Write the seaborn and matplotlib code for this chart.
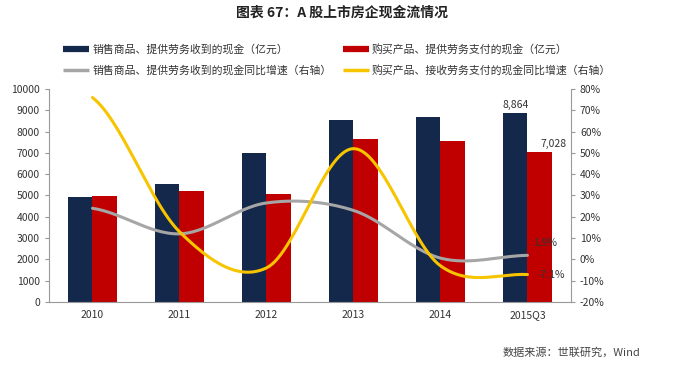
import numpy as np
import pandas as pd
import matplotlib
matplotlib.use("Agg")
import matplotlib.pyplot as plt
import seaborn as sns
from matplotlib.lines import Line2D

# Data
years = ["2010", "2011", "2012", "2013", "2014", "2015Q3"]
sales_cash = [4950, 5550, 6980, 8560, 8680, 8864]
purchase_cash = [4980, 5200, 5050, 7650, 7580, 7028]
sales_yoy = [24, 12, 26.5, 23, 0.6, 1.9]
purchase_yoy = [76, 13, -4, 52, -3, -7.1]

bar_names = ["销售商品、提供劳务收到的现金（亿元）", "购买产品、提供劳务支付的现金（亿元）"]
line_names = ["销售商品、提供劳务收到的现金同比增速（右轴）", "购买产品、接收劳务支付的现金同比增速（右轴）"]

navy = "#13284a"
red = "#c00000"
grey = "#a6a6a6"
yellow = "#f7c400"

sns.set_style("white")
plt.rcParams["font.family"] = ["Noto Sans CJK SC", "DejaVu Sans"]

df = pd.DataFrame({
    "year": years * 2,
    "value": sales_cash + purchase_cash,
    "series": [bar_names[0]] * len(years) + [bar_names[1]] * len(years),
})

fig = plt.figure(figsize=(6.85, 3.69), dpi=100)
ax = fig.add_axes([0.0715, 0.1816, 0.762, 0.5772])

sns.barplot(data=df, x="year", y="value", hue="series", palette=[navy, red],
            width=0.56, saturation=1, linewidth=0, ax=ax, legend=False)
ax.set_xlim(-0.5, 5.5)
ax.set_ylim(0, 10000)
ax.set_yticks(np.arange(0, 10001, 1000))
ax.set_xlabel("")
ax.set_ylabel("")
ax.set_xticks(np.arange(-0.5, 6, 1), minor=True)
ax.tick_params(axis="x", which="major", length=0, labelsize=7.5, colors="#333333", pad=6)
ax.tick_params(axis="x", which="minor", length=3, color="#999999", direction="in")
ax.tick_params(axis="y", length=3, color="#999999", labelsize=7.5, labelcolor="#333333", direction="out")
for s in ["top", "right"]:
    ax.spines[s].set_visible(False)
for s in ["left", "bottom"]:
    ax.spines[s].set_color("#999999")
    ax.spines[s].set_linewidth(0.8)


def smooth(y, n=30):
    # Catmull-Rom style smoothing like Excel's smoothed lines
    y = np.asarray(y, dtype=float)
    x = np.arange(len(y), dtype=float)
    pts_x, pts_y = [], []
    for i in range(len(y) - 1):
        p0 = y[i - 1] if i > 0 else y[i]
        p3 = y[i + 2] if i + 2 < len(y) else y[i + 1]
        p1, p2 = y[i], y[i + 1]
        t = np.linspace(0, 1, n, endpoint=False)
        pts_y.append(0.5 * ((2 * p1) + (-p0 + p2) * t + (2 * p0 - 5 * p1 + 4 * p2 - p3) * t ** 2
                            + (-p0 + 3 * p1 - 3 * p2 + p3) * t ** 3))
        pts_x.append(x[i] + t)
    pts_x.append([x[-1]])
    pts_y.append([y[-1]])
    return np.concatenate(pts_x), np.concatenate(pts_y)


ax2 = ax.twinx()
gx, gy = smooth(sales_yoy)
yx, yy = smooth(purchase_yoy)
sns.lineplot(x=gx, y=gy, color=grey, lw=2.2, ax=ax2, sort=False)
sns.lineplot(x=yx, y=yy, color=yellow, lw=2.2, ax=ax2, sort=False)
ax2.set_ylim(-20, 80)
ax2.set_yticks(np.arange(-20, 81, 10))
ax2.set_yticklabels([f"{v}%" for v in range(-20, 81, 10)])
ax2.tick_params(axis="y", length=3, color="#999999", labelsize=7.5, labelcolor="#333333")
for s in ["top", "left", "bottom"]:
    ax2.spines[s].set_visible(False)
ax2.spines["right"].set_color("#999999")
ax2.spines["right"].set_linewidth(0.8)

# value labels
ax.text(5 - 0.14, sales_cash[-1] + 150, f"{sales_cash[-1]:,}", ha="center", va="bottom",
        fontsize=7.5, color="#333333")
ax.text(5 + 0.3, purchase_cash[-1] + 150, f"{purchase_cash[-1]:,}", ha="center", va="bottom",
        fontsize=7.5, color="#333333")
ax2.text(5.06, sales_yoy[-1] + 6, f"{sales_yoy[-1]}%", ha="left", va="center", fontsize=7.5, color="#333333")
ax2.text(5.12, purchase_yoy[-1], f"{purchase_yoy[-1]}%", ha="left", va="center", fontsize=7.5, color="#333333")

# title and legend
fig.text(0.5, 0.965, "图表 67：A 股上市房企现金流情况", ha="center", va="center",
         fontsize=10, fontweight="bold", color="#222222")
handles = [
    Line2D([0], [0], color=navy, lw=4.5, solid_capstyle="butt"),
    Line2D([0], [0], color=grey, lw=2.5, solid_capstyle="butt"),
    Line2D([0], [0], color=red, lw=4.5, solid_capstyle="butt"),
    Line2D([0], [0], color=yellow, lw=2.5, solid_capstyle="butt"),
]
labels = [bar_names[0], line_names[0], bar_names[1], line_names[1]]
fig.legend(handles, labels, ncol=2, loc="center left", bbox_to_anchor=(0.078, 0.838),
           frameon=False, fontsize=7.8, handlelength=2.4, handletextpad=0.3,
           columnspacing=1.0, labelspacing=0.95, labelcolor="#333333")

fig.text(0.935, 0.045, "数据来源：世联研究，Wind", ha="right", va="center", fontsize=8, color="#444444")

fig.savefig("out.png", dpi=100)
